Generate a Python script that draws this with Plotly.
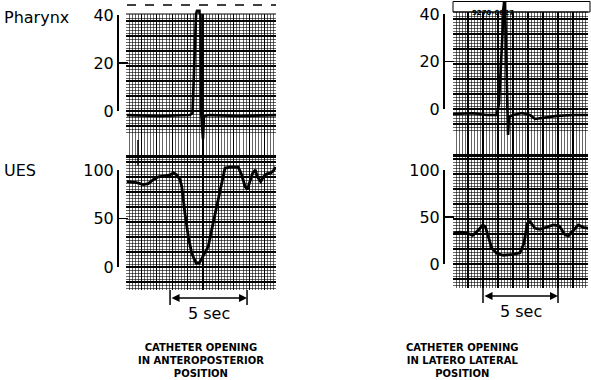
import numpy as np
import plotly.graph_objects as go

W, H = 591, 380

# ---------------- data (time in s, pressure in mmHg) ----------------
pharynx_ap_t = [0.05, 2.2, 4.16, 4.32, 4.55, 4.61, 4.77, 4.84, 4.87, 5.0, 5.06, 5.45, 7.4, 9.74]
pharynx_ap_p = [-1.7, -2.1, -1.7, -0.8, 40.4, 41.7, 41.7, 40.4, 0.0, -11.7, -2.1, -1.7, -2.1, -1.7]

ues_ap_t = [0.05, 0.69, 1.12, 1.45, 1.77, 2.10, 2.53, 2.86, 3.07, 3.29, 3.51, 3.62, 3.83, 4.05,
            4.27, 4.55, 4.76, 5.02, 5.34, 5.56, 5.89, 6.21, 6.43, 6.75, 7.29, 7.51, 7.73, 7.88,
            8.05, 8.23, 8.40, 8.53, 8.75, 8.92, 9.14, 9.40, 9.56, 9.72]
ues_ap_p = [88, 87, 85, 86, 90, 93, 94, 95, 97, 95, 90, 83, 55, 31,
            14, 4, 4, 11, 21, 38, 62, 83, 102, 103, 103, 95, 83, 80,
            88, 97, 100, 93, 88, 93, 96, 97, 99, 103]

pharynx_ll_t = [0.0, 1.33, 2.25, 2.91, 3.07, 3.35, 3.40, 3.47, 3.67, 3.73, 4.0, 4.6, 5.13, 5.47, 6.0, 6.93, 8.0, 9.0]
pharynx_ll_p = [-2.1, -1.8, -2.5, -2.5, 2.5, 41.7, 44.6, 44.6, -10.9, -3.4, -2.5, -1.7, -2.5, -4.2, -3.8, -2.9, -2.5, -2.5]

ues_ll_t = [0.02, 0.47, 0.91, 1.31, 1.69, 1.98, 2.15, 2.35, 2.58, 2.91, 3.35, 4.02, 4.47, 4.73,
            4.95, 5.13, 5.47, 5.80, 6.25, 6.69, 7.09, 7.47, 7.69, 8.02, 8.35, 8.69, 9.02]
ues_ll_p = [33, 34, 33, 30.5, 36, 41.5, 40, 29, 17, 11.4, 9.3, 10.3, 12, 22,
            43, 45, 38, 37, 39, 41.5, 40.4, 31, 30, 36, 41.5, 39, 38]

# event-marker pips (time, and pressure extent in each channel)
marker_ap_t = 0.78
marker_ap_pharynx = [-12.1, -25]
marker_ap_ues = [130, 105]
marker_ll_t = 4.0
marker_ll_pharynx = [-10.9, -25]
marker_ll_ues = [130, 110.6]

scale_ap_start = 2.86
scale_ll_start = 2.0
scale_len = 5

pharynx_ticks = [0, 20, 40]
ues_ticks = [0, 50, 100]

# ---------------- layout helpers (pixel geometry) ----------------
def xdom(l, r):
    return [l / W, r / W]

def ydom(top, bot):
    return [1 - bot / H, 1 - top / H]

def yrng(zero_px, ppu, top, bot):
    return [(zero_px - bot) / ppu, (zero_px - top) / ppu]

def py(p):
    return 1 - p / H

def sfx(n):
    return "" if n == 1 else str(n)

FONT = "DejaVu Sans"
MINOR_C = "rgba(0,0,0,0.6)"
MAJOR_C = "black"

fig = go.Figure()
layout = dict(width=W, height=H, margin=dict(l=0, r=0, t=0, b=0, pad=0, autoexpand=False),
              autosize=False, paper_bgcolor="white", plot_bgcolor="rgba(0,0,0,0)", showlegend=False)

panels = [
    dict(l=126, r=276, pps=15.4, pz=111, pp=2.4, uz=267, up=0.97, top=0, gtop=14, sep=155, bot=290,
         pt=pharynx_ap_t, pv=pharynx_ap_p, ut=ues_ap_t, uv=ues_ap_p,
         mt=marker_ap_t, mp=marker_ap_pharynx, mu=marker_ap_ues, s0=scale_ap_start, brx=117,
         cap="<b>CATHETER OPENING<br>IN ANTEROPOSTERIOR<br>POSITION</b>"),
    dict(l=453, r=588, pps=15.0, pz=109, pp=2.375, uz=264, up=0.94, top=0, gtop=12, sep=154, bot=288,
         pt=pharynx_ll_t, pv=pharynx_ll_p, ut=ues_ll_t, uv=ues_ll_p,
         mt=marker_ll_t, mp=marker_ll_pharynx, mu=marker_ll_ues, s0=scale_ll_start, brx=443,
         cap="<b>CATHETER OPENING<br>IN LATERO LATERAL<br>POSITION</b>"),
]

shapes = []
annotations = []
for k, P in enumerate(panels):
    xr = [0, (P["r"] - P["l"]) / P["pps"]]
    base = 1 + 3 * k
    a_ph, a_ue, a_hd = sfx(base), sfx(base + 1), sfx(base + 2)
    hgrid_bottom = -21 / P["pp"]
    ph_minor = list(np.arange(0, hgrid_bottom - 0.01, -3 / P["pp"])) + list(np.arange(3 / P["pp"], 50, 3 / P["pp"]))
    ph_major = list(np.arange(0, hgrid_bottom - 0.01, -15 / P["pp"])) + list(np.arange(15 / P["pp"], 50, 15 / P["pp"]))
    common_x = dict(domain=xdom(P["l"], P["r"]), range=xr, showticklabels=False, ticks="",
                    zeroline=False, showgrid=True, gridcolor=MAJOR_C, gridwidth=1.3, dtick=1, tick0=0,
                    minor=dict(dtick=0.2, showgrid=True, gridcolor=MINOR_C, gridwidth=1),
                    fixedrange=True, automargin=False)
    layout[f"xaxis{a_ph}"] = dict(common_x, anchor=f"y{a_ph}", showline=True, linewidth=3,
                                  linecolor="black", mirror=False)
    layout[f"yaxis{a_ph}"] = dict(domain=ydom(P["gtop"], P["sep"]),
                                  range=yrng(P["pz"], P["pp"], P["gtop"], P["sep"]),
                                  anchor=f"x{a_ph}", showticklabels=False, ticks="", zeroline=False,
                                  tickmode="array", tickvals=ph_major, showgrid=True,
                                  gridcolor=MAJOR_C, gridwidth=1.3, automargin=False, fixedrange=True,
                                  minor=dict(tickmode="array", tickvals=ph_minor, showgrid=True,
                                             gridcolor=MINOR_C, gridwidth=1))
    # header strip above the grid (same scale, no grid) so the spike can overshoot the paper
    layout[f"xaxis{a_hd}"] = dict(domain=xdom(P["l"], P["r"]), range=xr, visible=False,
                                  anchor=f"y{a_hd}", automargin=False, fixedrange=True)
    layout[f"yaxis{a_hd}"] = dict(domain=ydom(P["top"], P["gtop"]),
                                  range=yrng(P["pz"], P["pp"], P["top"], P["gtop"]),
                                  anchor=f"x{a_hd}", visible=False, showgrid=False, automargin=False,
                                  fixedrange=True)
    layout[f"xaxis{a_ue}"] = dict(common_x, anchor=f"y{a_ue}", showline=False)
    layout[f"yaxis{a_ue}"] = dict(domain=ydom(P["sep"] + 1.5, P["bot"]),
                                  range=yrng(P["uz"], P["up"], P["sep"] + 1.5, P["bot"]),
                                  anchor=f"x{a_ue}", showticklabels=False, ticks="", zeroline=False,
                                  showgrid=True, gridcolor=MAJOR_C, gridwidth=1.3,
                                  tick0=0, dtick=15 / P["up"], automargin=False, fixedrange=True,
                                  minor=dict(tick0=0, dtick=3 / P["up"], showgrid=True,
                                             gridcolor=MINOR_C, gridwidth=1))
    for ax_ in (a_ph, a_hd):
        fig.add_trace(go.Scatter(x=P["pt"], y=P["pv"], mode="lines", xaxis=f"x{ax_}", yaxis=f"y{ax_}",
                                 line=dict(color="black", width=2.6), hoverinfo="skip"))
    fig.add_trace(go.Scatter(x=[P["mt"], P["mt"]], y=P["mp"], mode="lines", xaxis=f"x{a_ph}",
                             yaxis=f"y{a_ph}", line=dict(color="black", width=1.5), hoverinfo="skip"))
    fig.add_trace(go.Scatter(x=P["ut"], y=P["uv"], mode="lines", xaxis=f"x{a_ue}", yaxis=f"y{a_ue}",
                             line=dict(color="black", width=2.8), hoverinfo="skip"))
    fig.add_trace(go.Scatter(x=[P["mt"], P["mt"]], y=P["mu"], mode="lines", xaxis=f"x{a_ue}",
                             yaxis=f"y{a_ue}", line=dict(color="black", width=1.5), hoverinfo="skip"))
    shapes.append(dict(type="line", xref="paper", yref="paper", x0=P["l"] / W, x1=P["r"] / W,
                       y0=py(P["gtop"]), y1=py(P["gtop"]), line=dict(color="black", width=1.2)))
    xs = f"x{a_ue}"
    for xv in (P["s0"], P["s0"] + scale_len):
        shapes.append(dict(type="line", xref=xs, yref="paper", x0=xv, x1=xv, y0=py(P["bot"]),
                           y1=py(P["bot"] + 15), line=dict(color="black", width=1.5)))
    annotations.append(dict(xref=xs, yref="paper", x=P["s0"] + scale_len, y=py(P["bot"] + 8),
                            axref=xs, ayref="pixel", ax=P["s0"], ay=0, text="", showarrow=True,
                            arrowside="end+start", arrowhead=2, arrowsize=1, arrowwidth=1.6,
                            arrowcolor="black"))
    annotations.append(dict(xref=xs, yref="paper", x=P["s0"] + scale_len / 2, y=py(P["bot"] + 23),
                            text="5 sec", showarrow=False, font=dict(family=FONT, size=16, color="black"),
                            yanchor="middle"))
    annotations.append(dict(xref="paper", yref="paper", x=(P["l"] + P["r"]) / 2 / W, y=py(340),
                            text=P["cap"], showarrow=False, yanchor="top", align="center",
                            font=dict(family=FONT, size=10, color="black")))
    for ch, (zero, ppu, topv, ticks) in enumerate([(P["pz"], P["pp"], 40, pharynx_ticks),
                                                   (P["uz"], P["up"], 100, ues_ticks)]):
        bi = 7 + 2 * k + ch
        layout[f"xaxis{bi}"] = dict(domain=xdom(P["brx"], P["brx"] + 1), range=[0, 1], visible=False,
                                    anchor=f"y{bi}", automargin=False, fixedrange=True)
        layout[f"yaxis{bi}"] = dict(domain=ydom(zero - topv * ppu, zero), range=[0, topv],
                                    anchor="free", position=P["brx"] / W, side="left",
                                    showline=True, linecolor="black", linewidth=1.6,
                                    ticks="inside", ticklen=9, tickwidth=1.6, tickcolor="black",
                                    tickmode="array", tickvals=ticks, showgrid=False, zeroline=False,
                                    automargin=False, fixedrange=True,
                                    tickfont=dict(family=FONT, size=16, color="black"))
        fig.add_trace(go.Scatter(x=[0.5], y=[0], mode="markers", marker=dict(opacity=0),
                                 xaxis=f"x{bi}", yaxis=f"y{bi}", hoverinfo="skip"))

shapes.append(dict(type="line", xref="paper", yref="paper", x0=127 / W, x1=276 / W, y0=py(5), y1=py(5),
                   line=dict(color="black", width=1.5, dash="dash")))
shapes.append(dict(type="rect", xref="paper", yref="paper", x0=453 / W, x1=590 / W, y0=py(12), y1=py(1.5),
                   line=dict(color="black", width=1), fillcolor="rgba(0,0,0,0)"))
annotations.append(dict(xref="paper", yref="paper", x=516 / W, y=py(6.5), text="<b>9270-0827</b>",
                        showarrow=False, font=dict(family=FONT, size=7, color="black")))

annotations.append(dict(xref="paper", yref="paper", x=2 / W, y=py(17), text="Pharynx", showarrow=False,
                        xanchor="left", yanchor="middle", font=dict(family=FONT, size=16, color="black")))
annotations.append(dict(xref="paper", yref="paper", x=2 / W, y=py(171), text="UES", showarrow=False,
                        xanchor="left", yanchor="middle", font=dict(family=FONT, size=16, color="black")))

layout["shapes"] = shapes
layout["annotations"] = annotations
fig.update_layout(**layout)
fig.write_html("out.html", config={"displayModeBar": False, "staticPlot": True},
               post_script="document.body.style.margin='0';document.body.style.padding='0';")
